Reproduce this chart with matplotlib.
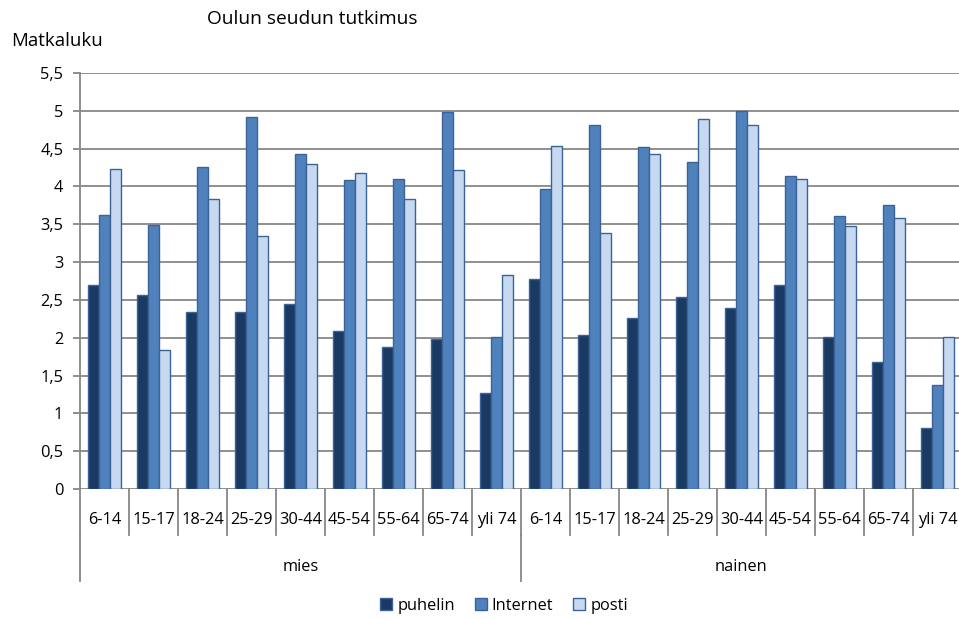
import matplotlib
matplotlib.use("Agg")
import matplotlib.pyplot as plt
import numpy as np

plt.rcParams['font.family'] = ['Open Sans', 'DejaVu Sans']

# Age groups within each gender
age_groups = ["6-14", "15-17", "18-24", "25-29", "30-44", "45-54", "55-64", "65-74", "yli 74"]
genders = ["mies", "nainen"]

# Matkaluku by survey method (mies first, then nainen)
puhelin = [2.70, 2.57, 2.34, 2.34, 2.45, 2.09, 1.88, 1.98, 1.27,
           2.77, 2.04, 2.26, 2.54, 2.39, 2.70, 2.01, 1.68, 0.81]
internet = [3.62, 3.49, 4.26, 4.92, 4.43, 4.09, 4.10, 4.98, 2.01,
            3.97, 4.81, 4.52, 4.32, 5.00, 4.14, 3.61, 3.76, 1.38]
posti = [4.23, 1.84, 3.84, 3.35, 4.30, 4.18, 3.84, 4.22, 2.83,
         4.54, 3.38, 4.43, 4.89, 4.81, 4.10, 3.48, 3.58, 2.01]

series = [("puhelin", puhelin, "#1B3A63"),
          ("Internet", internet, "#4F81BD"),
          ("posti", posti, "#C6D9F1")]
edge = "#3B6396"
grid_col = "#878787"
fs = 11.8

W, H = 959, 619
fig = plt.figure(figsize=(W / 100, H / 100), dpi=100)
ax = fig.add_axes([80 / W, 1 - 489 / H, (962 - 80) / W, (489 - 73) / H])

n = len(age_groups) * len(genders)
x = np.arange(n)
bw = 0.23
for k, (name, vals, col) in enumerate(series):
    ax.bar(x + (k - 1) * bw, vals, width=bw, color=col, edgecolor=edge,
           linewidth=1.0, label=name, zorder=3)

ax.set_xlim(-0.5, n - 0.5)
ax.set_ylim(0, 5.5)
yt = np.arange(0, 5.51, 0.5)
ax.set_yticks(yt)
ax.set_yticklabels([("%g" % v).replace(".", ",") for v in yt], fontsize=fs)
ax.yaxis.grid(True, color=grid_col, linewidth=1.3, zorder=0)
ax.tick_params(axis="y", length=5, width=1.3, color=grid_col, pad=7)
ax.set_xticks([])
for s in ["top", "right", "bottom"]:
    ax.spines[s].set_visible(False)
ax.spines["left"].set_color(grid_col)
ax.spines["left"].set_linewidth(1.3)

# Two-level category axis below the plot
ah = 489 - 73
y_sep = -(535 - 489) / ah
y_long = -(581 - 489) / ah
y_age = -(520 - 489) / ah
y_gen = -(567 - 489) / ah
trans = ax.get_xaxis_transform()
for b in np.arange(-0.5, n, 1.0):
    ax.plot([b, b], [0, y_sep], color=grid_col, lw=1.3, transform=trans, clip_on=False)
for b in [-0.5, len(age_groups) - 0.5]:
    ax.plot([b, b], [y_sep, y_long], color=grid_col, lw=1.3, transform=trans, clip_on=False)
labels = age_groups * len(genders)
for xi, lab in zip(x, labels):
    ax.text(xi, y_age, lab, transform=trans, ha="center", va="center", fontsize=fs)
for gi, g in enumerate(genders):
    cx = gi * len(age_groups) + (len(age_groups) - 1) / 2
    ax.text(cx, y_gen, g, transform=trans, ha="center", va="center", fontsize=fs)

fig.text(207 / W, 1 - 19 / H, "Oulun seudun tutkimus", ha="left", va="center", fontsize=13.8)
fig.text(11 / W, 1 - 41 / H, "Matkaluku", ha="left", va="center", fontsize=13.4)

fig.legend(loc="center", bbox_to_anchor=(504 / W, 1 - 606 / H), ncol=3, frameon=False,
           fontsize=fs, handlelength=0.75, handleheight=0.75, handletextpad=0.3,
           columnspacing=1.2)

fig.savefig("out.png", dpi=100)
